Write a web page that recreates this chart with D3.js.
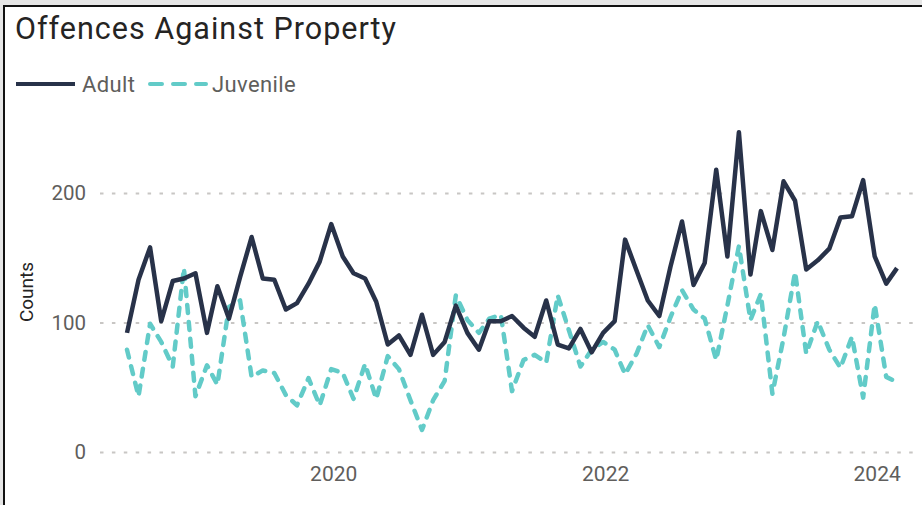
<!DOCTYPE html>
<html>
<head>
<meta charset="utf-8">
<script src="https://cdn.jsdelivr.net/npm/d3@7"></script>
<style>
  html, body { margin: 0; padding: 0; background: #e6e6e6; }
  svg { display: block; }
</style>
</head>
<body>
<svg id="chart" width="922" height="505"></svg>
<script>
const months = [
  "2018-07","2018-08","2018-09","2018-10","2018-11","2018-12",
  "2019-01","2019-02","2019-03","2019-04","2019-05","2019-06","2019-07","2019-08","2019-09","2019-10","2019-11","2019-12",
  "2020-01","2020-02","2020-03","2020-04","2020-05","2020-06","2020-07","2020-08","2020-09","2020-10","2020-11","2020-12",
  "2021-01","2021-02","2021-03","2021-04","2021-05","2021-06","2021-07","2021-08","2021-09","2021-10","2021-11","2021-12",
  "2022-01","2022-02","2022-03","2022-04","2022-05","2022-06","2022-07","2022-08","2022-09","2022-10","2022-11","2022-12",
  "2023-01","2023-02","2023-03","2023-04","2023-05","2023-06","2023-07","2023-08","2023-09","2023-10","2023-11","2023-12",
  "2024-01","2024-02","2024-03"
];
const adult = [
  92,133,158,101,132,134,
  138,92,128,103,135,166,134,133,110,115,130,147,
  176,151,138,134,116,83,90,75,106,75,85,113,
  92,79,101,101,105,96,89,117,83,80,95,77,
  92,101,164,140,117,105,143,178,129,146,218,151,
  247,137,186,156,209,194,141,148,157,181,182,210,
  151,130,142
];
const juvenile = [
  79,43,99,85,66,142,
  43,67,52,112,117,58,63,61,44,36,57,36,
  64,61,41,68,41,74,64,40,17,40,55,121,
  102,92,103,106,47,71,75,69,121,94,66,79,
  85,79,60,76,98,81,104,125,110,103,71,113,
  159,102,122,45,88,139,76,101,79,65,89,42,
  114,58,54
];
const yTicks = [0, 100, 200];
const xTickYears = ["2020", "2022", "2024"];
const seriesNames = ["Adult", "Juvenile"];

const parse = d3.timeParse("%Y-%m");
const dates = months.map(parse);

const svg = d3.select("#chart");
const W = 922, H = 505;

// card background & frame
svg.append("rect").attr("x", 0).attr("y", 0).attr("width", W).attr("height", H).attr("fill", "#e6e6e6");
svg.append("rect").attr("x", 4).attr("y", 6).attr("width", W).attr("height", H).attr("fill", "#ffffff")
  .attr("stroke", "#111").attr("stroke-width", 2);

const x = d3.scaleTime().domain([dates[0], dates[dates.length - 1]]).range([127, 897]);
const y = d3.scaleLinear().domain([0, 200]).range([452, 193]);

const fontFam = "Roboto, 'Open Sans', sans-serif";
const navy = "#283249";
const teal = "#62CBC8";
const grey = "#605E5C";

// title
svg.append("text").attr("x", 15).attr("y", 39)
  .attr("font-family", fontFam).attr("font-size", 30.5).attr("letter-spacing", 1.0)
  .attr("fill", "#252423").text("Offences Against Property");

// legend
const leg = svg.append("g");
leg.append("line").attr("x1", 16).attr("x2", 75).attr("y1", 84).attr("y2", 84)
  .attr("stroke", navy).attr("stroke-width", 4);
leg.append("text").attr("x", 82).attr("y", 92).attr("font-family", fontFam).attr("font-size", 22)
  .attr("letter-spacing", 0.4).attr("fill", grey).text(seriesNames[0]);
leg.append("line").attr("x1", 150).attr("x2", 206).attr("y1", 84).attr("y2", 84)
  .attr("stroke", teal).attr("stroke-width", 4).attr("stroke-linecap", "round")
  .attr("stroke-dasharray", "12,11");
leg.append("text").attr("x", 212).attr("y", 92).attr("font-family", fontFam).attr("font-size", 22)
  .attr("letter-spacing", 0.4).attr("fill", grey).text(seriesNames[1]);

// y gridlines + labels
const yAxis = d3.axisLeft(y).tickValues(yTicks).tickSize(-815).tickPadding(14);
const gy = svg.append("g").attr("transform", "translate(100,0)").call(yAxis);
gy.select(".domain").remove();
gy.selectAll(".tick line").attr("stroke", "#c8c6c4").attr("stroke-width", 2)
  .attr("stroke-dasharray", "3.5,8.4");
gy.selectAll(".tick text").attr("font-family", fontFam).attr("font-size", 20.5)
  .attr("fill", grey).attr("x", -14);

// x axis labels
const xAxis = d3.axisBottom(x)
  .tickValues(xTickYears.map(s => d3.timeParse("%Y")(s)))
  .tickFormat(d3.timeFormat("%Y")).tickSize(0).tickPadding(0);
const gx = svg.append("g").attr("transform", "translate(2,466)").call(xAxis);
gx.select(".domain").remove();
gx.selectAll(".tick text").attr("font-family", fontFam).attr("font-size", 21)
  .attr("fill", grey).attr("dy", "0.71em");

// y axis title
svg.append("text").attr("transform", "translate(33,292) rotate(-90)")
  .attr("text-anchor", "middle").attr("font-family", fontFam).attr("font-size", 19)
  .attr("fill", "#252423").text("Counts");

// lines
const line = d3.line().x((d, i) => x(dates[i])).y(d => y(d));
svg.append("path").datum(juvenile).attr("d", line).attr("fill", "none")
  .attr("stroke", teal).attr("stroke-width", 4.5).attr("stroke-linecap", "round")
  .attr("stroke-linejoin", "round").attr("stroke-dasharray", "8,9");
svg.append("path").datum(adult).attr("d", line).attr("fill", "none")
  .attr("stroke", navy).attr("stroke-width", 4.5).attr("stroke-linejoin", "round");
</script>
</body>
</html>
